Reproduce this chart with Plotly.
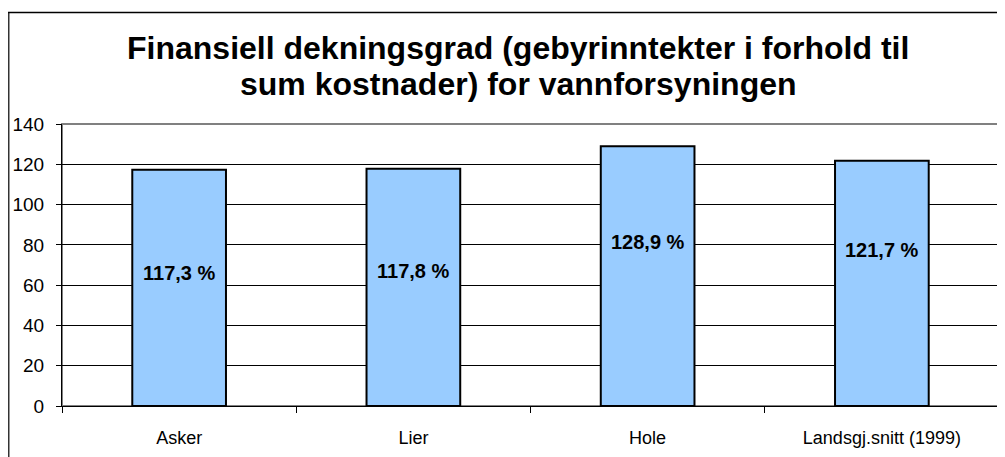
import plotly.graph_objects as go

categories = ["Asker", "Lier", "Hole", "Landsgj.snitt (1999)"]
values = [117.3, 117.8, 128.9, 121.7]
value_labels = ["117,3 %", "117,8 %", "128,9 %", "121,7 %"]
label_y = [66, 67, 81.5, 77.5]
y_ticks = [0, 20, 40, 60, 80, 100, 120, 140]
title_lines = ["Finansiell dekningsgrad (gebyrinntekter i forhold til",
               "sum kostnader) for vannforsyningen"]

W, H = 1005, 457
L, R, T, B = 54, 14, 116, 59
pw, ph = W - L - R, H - T - B
FONT = "Liberation Sans, Arial"

fig = go.Figure()
fig.add_trace(go.Bar(
    x=categories, y=values,
    marker=dict(color="#99CCFF", line=dict(color="black", width=2)),
    width=0.4, hoverinfo="skip",
))

for c, t, yv in zip(categories, value_labels, label_y):
    fig.add_annotation(x=c, y=yv, text="<b>%s</b>" % t, showarrow=False,
                       font=dict(family=FONT, size=20, color="black"))

# title as two centered lines
for line, ypx in zip(title_lines, [40, 76]):
    fig.add_annotation(xref="paper", yref="paper",
                       x=(510 - L) / pw, y=(H - B - ypx) / ph,
                       xanchor="center", yanchor="middle", showarrow=False,
                       text="<b>%s</b>" % line,
                       font=dict(family=FONT, size=32, color="black"))

# outer chart frame
fig.add_shape(type="line", xref="paper", yref="paper",
              x0=(0.5 - L) / pw, x1=(0.5 - L) / pw, y0=-(B + 20) / ph, y1=(H - B - 4) / ph,
              line=dict(color="#333333", width=2), layer="below")
fig.add_shape(type="line", xref="paper", yref="paper",
              x0=(0 - L) / pw, x1=(W + 20 - L) / pw,
              y0=(H - B - 4.5) / ph, y1=(H - B - 4.5) / ph,
              line=dict(color="black", width=1.5), layer="below")
# plot area border (gray)
fig.add_shape(type="rect", xref="paper", yref="paper", x0=0, x1=1, y0=0, y1=1,
              line=dict(color="#808080", width=2), layer="below")

fig.update_layout(
    width=W, height=H,
    margin=dict(l=L, r=R, t=T, b=B),
    paper_bgcolor="white", plot_bgcolor="white",
    showlegend=False,
    font=dict(family=FONT, size=18, color="black"),
    xaxis=dict(
        automargin=False,
        showgrid=False, showline=True, linecolor="black", linewidth=1,
        ticks="outside", tickson="boundaries", ticklen=6, tickcolor="black",
        tickfont=dict(size=18), ticklabelstandoff=15, fixedrange=True,
    ),
    yaxis=dict(
        automargin=False,
        range=[0, 140], tickvals=y_ticks, showgrid=True, gridcolor="black", gridwidth=1,
        showline=True, linecolor="black", linewidth=1,
        ticks="outside", ticklen=5, tickcolor="black", zeroline=False,
        tickfont=dict(size=19), ticklabelstandoff=8, fixedrange=True,
    ),
)

fig.write_html("out.html")
